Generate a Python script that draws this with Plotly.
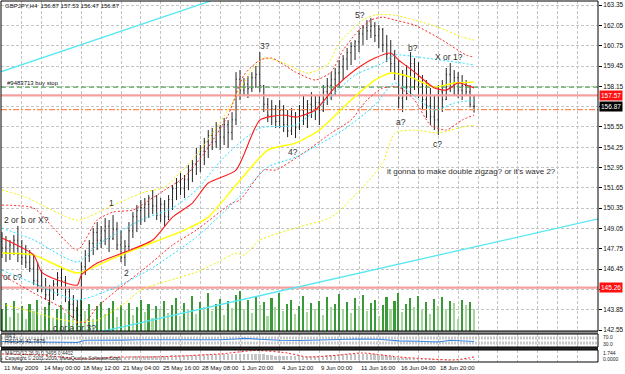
import plotly.graph_objects as go

# ------------------------------------------------------------------ data
symbol_title = "GBPJPY,H4  156.87 157.53 156.47 156.87"

bar_index = list(range(120))

opens = [148.2, 147.8, 147.5, 148.0, 148.3, 147.4, 147.2, 146.9, 146.5, 145.7,
         145.4, 145.2, 144.8, 145.2, 145.5, 145.9, 145.7, 145.0, 144.2, 143.8,
         143.5, 146.6, 147.3, 148.1, 148.8, 148.3, 148.9, 149.2, 148.4, 149.0,
         148.0, 147.2, 147.9, 148.9, 149.8, 150.2, 150.4, 150.6, 151.0, 150.5,
         149.9, 150.6, 149.8, 150.9, 151.6, 152.0, 151.6, 152.2, 152.8, 153.2,
         153.8, 154.0, 154.6, 155.0, 154.6, 155.5, 154.9, 155.7, 155.2, 156.0,
         158.6, 157.9, 158.3, 158.0, 158.7, 158.9, 158.2, 157.0, 156.3, 156.7,
         155.9, 156.6, 155.7, 155.3, 156.2, 155.5, 156.6, 156.3, 157.0, 156.6,
         157.1, 156.6, 157.8, 158.2, 158.6, 159.0, 159.4, 159.9, 160.3, 160.7,
         161.0, 161.5, 161.9, 161.7, 162.0, 161.4, 161.8, 160.8, 160.2, 159.6,
         159.0, 157.4, 158.8, 158.1, 159.6, 158.5, 158.3, 157.3, 156.9, 156.2,
         156.0, 157.8, 157.3, 158.9, 158.3, 158.7, 157.9, 158.2, 157.8, 156.87]

highs = [148.82, 148.57, 148.31, 148.63, 149.21, 148.31, 147.99, 147.67, 147.35, 146.90,
         146.39, 145.88, 145.43, 145.75, 146.26, 146.52, 146.01, 145.24, 144.79, 144.47,
         146.90, 147.67, 148.31, 149.08, 149.46, 149.21, 149.72, 149.59, 149.91, 149.46,
         148.95, 148.31, 149.46, 150.10, 150.55, 150.87, 151.00, 151.19, 151.51, 151.19,
         151.00, 150.87, 151.19, 151.83, 152.28, 152.66, 152.47, 153.11, 153.43, 154.20,
         154.39, 154.84, 155.35, 155.48, 155.86, 155.67, 156.12, 155.99, 156.50, 159.06,
         159.19, 158.68, 158.81, 159.06, 159.45, 160.34, 158.23, 157.40, 157.27, 156.95,
         157.27, 156.95, 156.63, 156.76, 156.50, 156.95, 157.59, 157.27, 157.78, 157.59,
         157.59, 158.23, 158.68, 159.06, 159.32, 159.83, 160.15, 160.60, 160.98, 161.11,
         161.75, 162.07, 162.39, 162.52, 162.26, 162.07, 161.88, 161.43, 161.11, 160.47,
         159.83, 159.19, 159.51, 160.34, 159.96, 159.70, 158.87, 158.55, 158.04, 157.59,
         158.23, 158.55, 159.32, 159.64, 159.19, 159.06, 158.87, 158.55, 158.23, 157.53]

lows = [147.16, 146.90, 147.03, 147.35, 146.90, 146.71, 146.52, 146.26, 145.43, 144.98,
        144.98, 144.47, 144.15, 144.47, 144.73, 145.11, 144.34, 143.83, 143.32, 142.87,
        143.06, 146.07, 146.90, 147.35, 147.67, 147.80, 147.99, 147.54, 148.31, 147.67,
        146.90, 146.65, 147.67, 148.44, 148.82, 149.27, 149.46, 149.72, 149.97, 149.59,
        149.46, 149.21, 149.59, 150.23, 150.87, 151.19, 151.00, 151.51, 152.02, 152.47,
        152.66, 153.11, 153.56, 154.07, 154.20, 154.07, 154.39, 154.20, 154.71, 155.67,
        157.27, 157.59, 157.40, 157.78, 158.04, 157.78, 156.50, 155.86, 155.67, 155.48,
        155.48, 155.22, 154.90, 155.03, 154.84, 155.35, 155.67, 155.48, 156.12, 155.99,
        155.67, 156.50, 156.95, 157.27, 157.59, 158.04, 158.55, 159.19, 159.51, 159.83,
        160.34, 160.79, 161.11, 161.24, 160.98, 160.60, 160.34, 159.70, 159.06, 158.55,
        156.76, 156.50, 157.27, 157.59, 157.91, 157.40, 156.63, 156.12, 155.67, 155.35,
        155.03, 156.50, 157.27, 157.78, 157.59, 157.40, 157.27, 157.59, 156.80, 156.47]

closes = [147.8, 147.5, 148.0, 148.3, 147.4, 147.2, 146.9, 146.5, 145.7, 145.4,
          145.2, 144.8, 145.2, 145.5, 145.9, 145.7, 145.0, 144.2, 143.8, 143.5,
          146.6, 147.3, 148.1, 148.8, 148.3, 148.9, 149.2, 148.4, 149.0, 148.0,
          147.2, 147.9, 148.9, 149.8, 150.2, 150.4, 150.6, 151.0, 150.5, 149.9,
          150.6, 149.8, 150.9, 151.6, 152.0, 151.6, 152.2, 152.8, 153.2, 153.8,
          154.0, 154.6, 155.0, 154.6, 155.5, 154.9, 155.7, 155.2, 156.0, 158.6,
          157.9, 158.3, 158.0, 158.7, 158.9, 158.2, 157.0, 156.3, 156.7, 155.9,
          156.6, 155.7, 155.3, 156.2, 155.5, 156.6, 156.3, 157.0, 156.6, 157.1,
          156.6, 157.8, 158.2, 158.6, 159.0, 159.4, 159.9, 160.3, 160.7, 161.0,
          161.5, 161.9, 161.7, 162.0, 161.4, 161.8, 160.8, 160.2, 159.6, 159.0,
          157.4, 158.8, 158.1, 159.6, 158.5, 158.3, 157.3, 156.9, 156.2, 156.0,
          157.8, 157.3, 158.9, 158.3, 158.7, 157.9, 158.2, 157.8, 157.0, 156.87]

volumes = [22, 28, 14, 30, 18, 25, 12, 27, 20, 31,
           16, 24, 29, 13, 22, 26, 18, 30, 15, 24,
           32, 20, 27, 12, 25, 29, 17, 23, 30, 14,
           26, 21, 28, 16, 24, 31, 19, 27, 13, 25,
           22, 30, 18, 26, 33, 15, 28, 21, 35, 17,
           29, 24, 38, 20, 27, 32, 16, 30, 23, 36,
           40, 22, 31, 18, 34, 26, 29, 15, 33, 24,
           38, 20, 27, 31, 17, 25, 35, 19, 28, 22,
           30, 16, 34, 24, 27, 37, 21, 29, 18, 33,
           25, 36, 20, 28, 31, 15, 26, 34, 22, 30,
           38, 19, 27, 33, 24, 35, 21, 29, 17, 32,
           25, 34, 22, 30, 28, 12, 31, 26, 29, 22]

# moving averages / bands (bar index, price)
red_ma_x = [0, 8, 10, 14, 19, 20, 24, 31, 38, 43, 48, 52, 59, 65, 71, 74, 79, 84, 89, 94, 98, 100, 104, 109, 112, 115, 119]
red_ma_y = [148.44, 147.35, 146.26, 145.75, 145.43, 146.07, 146.84, 147.54, 148.31, 149.78, 150.68, 151.96, 152.79,
            155.99, 156.31, 156.18, 156.63, 158.10, 159.19, 159.96, 160.28, 159.83, 159.06, 158.04, 157.91, 158.36, 158.04]

yellow_ma_x = [0, 8, 19, 27, 35, 46, 52, 59, 67, 74, 80, 88, 94, 98, 103, 109, 114, 119]
yellow_ma_y = [147.48, 147.35, 146.20, 147.03, 147.86, 148.95, 149.78, 151.83, 154.07, 154.52, 155.35, 157.27,
               158.55, 159.00, 158.74, 158.10, 158.36, 158.42]

yellow_up_x = [0, 6, 19, 28, 36, 41, 49, 57, 63, 66, 71, 77, 82, 85, 91, 94, 99, 104, 110, 116, 119]
yellow_up_y = [151.51, 151.06, 149.59, 150.55, 151.38, 151.70, 153.75, 156.63, 159.19, 159.96, 159.64, 159.00,
               159.51, 160.92, 162.39, 162.71, 162.71, 162.39, 161.94, 161.30, 161.11]

yellow_lo_x = [1, 8, 13, 19, 24, 31, 35, 49, 54, 59, 61, 65, 74, 83, 91, 96, 99, 104, 110, 116, 119]
yellow_lo_y = [144.15, 143.70, 143.32, 143.06, 143.19, 144.28, 145.11, 146.26, 146.84, 147.48, 147.35, 148.31,
               149.08, 149.78, 151.70, 153.24, 155.16, 155.35, 155.16, 155.54, 155.67]

red_up_x = [0, 8, 13, 19, 24, 28, 33, 36, 41, 46, 51, 57, 61, 65, 68, 74, 79, 83, 86, 90, 93, 96, 99, 104, 111, 117, 119]
red_up_y = [150.55, 150.36, 149.08, 147.67, 149.59, 150.10, 150.23, 150.68, 151.51, 152.34, 153.88, 156.30, 158.87,
            159.83, 159.96, 159.06, 158.55, 159.06, 160.47, 161.75, 162.39, 162.58, 162.39, 162.07, 161.11, 160.15, 160.02]

red_lo_x = [0, 8, 16, 19, 21, 24, 29, 37, 43, 49, 58, 60, 66, 69, 76, 83, 88, 92, 96, 100, 104, 108, 112, 116, 119]
red_lo_y = [146.07, 144.92, 143.83, 143.06, 143.06, 144.02, 145.11, 146.71, 147.99, 148.95, 150.68, 150.87, 152.79,
            152.79, 153.88, 155.16, 155.99, 157.27, 158.04, 158.10, 157.27, 155.67, 155.35, 155.99, 156.31]

cyan_up_x = [0, 8, 19, 24, 35, 43, 49, 56, 65, 74, 82, 89, 96, 99, 105, 116, 119]
cyan_up_y = [149.08, 148.31, 146.90, 147.99, 149.59, 150.36, 151.51, 153.62, 155.48, 155.67, 157.27, 158.87,
             159.64, 160.15, 160.02, 159.64, 159.51]

cyan_lo_x = [0, 9, 19, 27, 37, 49, 59, 67, 74, 86, 94, 99, 109, 114, 119]
cyan_lo_y = [146.39, 145.43, 144.47, 145.11, 146.39, 148.50, 150.87, 152.98, 153.62, 155.35, 156.95, 158.36,
             156.63, 157.08, 157.27]

# trend lines
trend_top_x = [-0.5, 60]
trend_top_y = [159.06, 164.25]
trend_bot_x = [20, 151]
trend_bot_y = [142.16, 149.71]

# horizontal order / level lines
level_buy_stop = 158.10
level_upper = 157.57
level_current = 156.87
level_stop = 156.66
level_lower = 145.26

# RSI sub-window
rsi_x = [0, 5, 10, 15, 19, 21, 25, 30, 35, 40, 45, 50, 55, 59, 61, 65, 70, 75, 80, 85, 90, 95, 100, 105, 110, 113, 116, 119]
rsi_y = [42, 40, 38, 37, 35, 52, 55, 53, 56, 55, 57, 58, 56, 62, 66, 60, 52, 50, 55, 58, 62, 60, 47, 44, 38, 52, 47, 41.79]
rsi_levels = [70, 30]

# MACD sub-window
macd_hist = [0.4, 0.4, 0.3, 0.3, 0.3, 0.2, 0.2, 0.2, 0.1, 0.1,
             0.1, 0.1, 0.1, 0.1, 0.1, 0.1, 0.1, 0.1, 0.1, 0.1,
             0.2, 0.3, 0.4, 0.5, 0.6, 0.6, 0.7, 0.7, 0.8, 0.8,
             0.8, 0.8, 0.9, 0.9, 1.0, 1.0, 1.0, 1.1, 1.1, 1.1,
             1.1, 1.1, 1.1, 1.2, 1.2, 1.2, 1.3, 1.3, 1.3, 1.3,
             1.4, 1.4, 1.4, 1.4, 1.4, 1.4, 1.4, 1.4, 1.4, 1.5,
             1.6, 1.6, 1.6, 1.6, 1.6, 1.5, 1.4, 1.3, 1.2, 1.1,
             1.0, 1.0, 0.9, 0.9, 0.9, 0.9, 0.9, 0.9, 0.9, 1.0,
             1.0, 1.1, 1.2, 1.2, 1.3, 1.4, 1.4, 1.5, 1.5, 1.6,
             1.6, 1.6, 1.6, 1.5, 1.4, 1.3, 1.2, 1.1, 1.0, 0.8,
             0.6, 0.5, 0.4, 0.3, 0.3, 0.2, 0.2, 0.1, 0.1, 0.1,
             0.1, 0.1, 0.1, 0.1, 0.1, 0.1, 0.1, 0.1, 0.1, 0.1]
macd_sig_x = [0, 10, 20, 30, 37, 45, 55, 64, 72, 77, 85, 91, 100, 108, 114, 119]
macd_sig_y = [1.5, 1.25, 0.25, 0.75, 0.75, 1.0, 1.5, 2.4, 1.75, 0.75, 1.25, 1.75, 0.75, 0.25, 0.0, 0.75]

# axis labels
x_tick_bars = [0, 10, 20, 30, 40, 50, 60, 70, 80, 90, 100, 110]
x_tick_labels = ["11 May 2009", "14 May 00:00", "18 May 12:00", "21 May 04:00", "25 May 16:00",
                 "28 May 08:00", "1 Jun 20:00", "4 Jun 12:00", "9 Jun 00:00", "11 Jun 16:00",
                 "16 Jun 04:00", "18 Jun 20:00"]
grid_bars = [0, 5, 10, 15, 20, 25, 30, 35, 40, 45, 50, 55, 60, 65, 70, 75, 80, 85, 90, 95, 100,
             105, 110, 115, 120, 125, 130, 135, 140, 145, 150]
price_ticks = [142.55, 143.85, 145.15, 146.45, 147.75, 149.05, 150.35, 151.65, 152.95, 154.25,
               155.55, 156.85, 158.15, 159.45, 160.75, 162.05, 163.35]
# 145.15 and 156.85 are hidden behind the price boxes in the reference
price_tick_text = ["142.55", "143.85", "", "146.45", "147.75", "149.05", "150.35", "151.65",
                   "152.95", "154.25", "155.55", "", "158.15", "159.45", "160.75", "162.05", "163.35"]

wave_labels = ["2 or b or X?", "or c?", "c or a or 3?", "1", "2", "3?", "4?", "5?", "a?", "b?", "c?", "X or 1?"]
wave_x = [6.25, 2.75, 18.25, 27.5, 31.5, 66.25, 73.25, 90.25, 100.5, 103.5, 109.75, 112.75]
wave_y = [149.59, 145.94, 142.68, 150.68, 146.2, 160.73, 153.94, 162.71, 155.86, 160.6, 154.45, 160.02]
comment_text = "it gonna to make double zigzag? or it's wave 2?"
comment_x = 96.5
comment_y = 152.73
order_text = "#9483713 buy stop"
order_x = 0.75
order_y = 158.36

# ------------------------------------------------------------------ layout geometry
W, H = 625, 374
ML, MR, MT, MB = 1, 22, 1, 11
PH = H - MT - MB          # plot height in px


def py(px):
    """pixel row (from top of page) -> paper fraction"""
    return (H - MB - px) / PH


FONT = "Liberation Sans, Arial, sans-serif"
GRID = "#c4c4c4"

fig = go.Figure()

# volume (base axis y, drawn underneath everything)
vol_colors = []
for i, v in enumerate(volumes):
    if i == 0 or v >= volumes[i - 1]:
        vol_colors.append("#3a9a3a")
    else:
        vol_colors.append("#a6d89e")
fig.add_trace(go.Bar(x=bar_index, y=volumes, width=0.4, marker=dict(color=vol_colors, line=dict(width=0)),
                     xaxis="x", yaxis="y", hoverinfo="skip", showlegend=False))

# price bars
fig.add_trace(go.Ohlc(x=bar_index, open=opens, high=highs, low=lows, close=closes,
                      increasing=dict(line=dict(color="#222222", width=1)),
                      decreasing=dict(line=dict(color="#222222", width=1)),
                      tickwidth=0.22, xaxis="x", yaxis="y4", hoverinfo="skip", showlegend=False))


def add_line(xs, ys, color, dash="solid", width=1.0, yaxis="y4", shape="spline"):
    fig.add_trace(go.Scatter(x=xs, y=ys, mode="lines", xaxis="x", yaxis=yaxis,
                             line=dict(color=color, width=width, dash=dash, shape=shape, smoothing=0.6),
                             hoverinfo="skip", showlegend=False))


XL = [-0.25, 150.25]
# horizontal order lines
add_line(XL, [level_buy_stop, level_buy_stop], "#5aa55a", dash="5px,3px", width=1.2, shape="linear")
add_line(XL, [level_upper, level_upper], "#f5a0a0", width=2.2, shape="linear")
add_line(XL, [level_stop, level_stop], "#ff8a50", dash="6px,2px,2px,2px", width=1.2, shape="linear")
add_line(XL, [level_lower, level_lower], "#f5a0a0", width=2.2, shape="linear")

# bands
add_line(yellow_up_x, yellow_up_y, "#f2f200", dash="2px,2px")
add_line(yellow_lo_x, yellow_lo_y, "#f2f200", dash="2px,2px")
add_line(red_up_x, red_up_y, "#ff2a2a", dash="2px,2px")
add_line(red_lo_x, red_lo_y, "#ff2a2a", dash="2px,2px")
add_line(cyan_up_x, cyan_up_y, "#22e0ff", dash="2px,2px")
add_line(cyan_lo_x, cyan_lo_y, "#22e0ff", dash="2px,2px")
# moving averages
add_line(yellow_ma_x, yellow_ma_y, "#ffff00", width=1.4)
add_line(red_ma_x, red_ma_y, "#ff1a1a", width=1.1)
# trend lines
add_line(trend_top_x, trend_top_y, "#55e8f2", width=1.3, shape="linear")
add_line(trend_bot_x, trend_bot_y, "#55e8f2", width=1.3, shape="linear")

# RSI window
for lv in rsi_levels:
    add_line(XL, [lv, lv], "#c8c8c8", dash="2px,1px", width=3, yaxis="y2", shape="linear")
add_line(rsi_x, rsi_y, "#3a86e6", width=1.1, yaxis="y2", shape="linear")

# MACD window
fig.add_trace(go.Bar(x=bar_index, y=macd_hist, width=0.45, marker=dict(color="#c4c4c4", line=dict(width=0)),
                     xaxis="x", yaxis="y3", hoverinfo="skip", showlegend=False))
add_line(macd_sig_x, macd_sig_y, "#ff3030", dash="2px,2px", width=1.1, yaxis="y3")

# ------------------------------------------------------------------ annotations
ann = []
small = dict(family=FONT, size=6, color="#111111")
ann.append(dict(x=0.004, y=py(6), xref="paper", yref="paper", text=symbol_title, showarrow=False,
                xanchor="left", yanchor="middle", font=small))
ann.append(dict(x=order_x, y=order_y, xref="x", yref="y4", text=order_text, showarrow=False,
                xanchor="left", yanchor="middle", font=small))
for t, xv, yv in zip(wave_labels, wave_x, wave_y):
    ann.append(dict(x=xv, y=yv, xref="x", yref="y4", text=t, showarrow=False, xanchor="center",
                    yanchor="middle", font=dict(family=FONT, size=8.5, color="#303030")))
ann.append(dict(x=comment_x, y=comment_y, xref="x", yref="y4", text=comment_text, showarrow=False,
                xanchor="left", yanchor="middle", font=dict(family=FONT, size=8, color="#303030")))

# price boxes on the right axis
for val, bg in [(level_upper, "#ff1010"), (level_current, "#000000"), (level_lower, "#ff1010")]:
    ann.append(dict(x=1.0, y=val, xref="paper", yref="y4", text="%.2f" % val, showarrow=False,
                    xanchor="left", yanchor="middle", xshift=1, bgcolor=bg, borderpad=1,
                    font=dict(family=FONT, size=6.5, color="white")))

# x labels
for b, t in zip(x_tick_bars, x_tick_labels):
    ann.append(dict(x=b, y=py(368), xref="x", yref="paper", text=t, showarrow=False,
                    xanchor="left", yanchor="middle", xshift=0, font=small))

# sub window texts
ann.append(dict(x=0.003, y=py(341), xref="paper", yref="paper", text="RSI(14) 41.7875", showarrow=False,
                xanchor="left", yanchor="middle", font=dict(family=FONT, size=5.5, color="#222222")))
ann.append(dict(x=0.003, y=py(336.5), xref="paper", yref="paper", text="MA 3", showarrow=False,
                xanchor="left", yanchor="middle", font=dict(family=FONT, size=4.5, color="#222222")))
ann.append(dict(x=0.003, y=py(352.5), xref="paper", yref="paper", text="MACD(12,26,9) 0.3495 0.4402",
                showarrow=False, xanchor="left", yanchor="middle",
                font=dict(family=FONT, size=5, color="#333333")))
ann.append(dict(x=0.003, y=py(357.5), xref="paper", yref="paper",
                text="Copyright © 2001-2009, MetaQuotes Software Corp.", showarrow=False,
                xanchor="left", yanchor="middle", font=dict(family=FONT, size=5, color="#333333")))
for txt, pxy in [("70.0", 337), ("30.0", 343.5), ("1.744", 353), ("0.0000", 359)]:
    ann.append(dict(x=1.0, y=py(pxy), xref="paper", yref="paper", text=txt, showarrow=False,
                    xanchor="left", yanchor="middle", xshift=3,
                    font=dict(family=FONT, size=5, color="#222222")))

# ------------------------------------------------------------------ shapes (panel frames)
main_bot, s1_top, s1_bot, s2_top, s2_bot = 331, 334, 347, 350, 362
shapes = [
    dict(type="rect", xref="paper", yref="paper", x0=0, x1=1, y0=py(s1_top), y1=py(main_bot),
         fillcolor="#8e8e8e", line=dict(width=0), layer="above"),
    dict(type="rect", xref="paper", yref="paper", x0=0, x1=1, y0=py(s2_top), y1=py(s1_bot),
         fillcolor="#262626", line=dict(width=0), layer="above"),
    dict(type="rect", xref="paper", yref="paper", x0=0, x1=1, y0=py(main_bot), y1=1,
         line=dict(color="#000000", width=1), fillcolor="rgba(0,0,0,0)", layer="above"),
    dict(type="rect", xref="paper", yref="paper", x0=0, x1=1, y0=py(s1_bot), y1=py(s1_top),
         line=dict(color="#000000", width=1), fillcolor="rgba(0,0,0,0)", layer="above"),
    dict(type="rect", xref="paper", yref="paper", x0=0, x1=1, y0=py(s2_bot), y1=py(s2_top),
         line=dict(color="#000000", width=1), fillcolor="rgba(0,0,0,0)", layer="above"),
]

fig.update_layout(
    width=W, height=H,
    margin=dict(l=ML, r=MR, t=MT, b=MB, pad=0),
    paper_bgcolor="white", plot_bgcolor="white",
    showlegend=False, hovermode=False,
    bargap=0,
    xaxis=dict(range=XL, anchor="y3", tickmode="array", tickvals=grid_bars, showticklabels=False,
               ticks="", showgrid=True, gridcolor=GRID, griddash="3px,2px", gridwidth=1,
               zeroline=False, showline=False, rangeslider=dict(visible=False), fixedrange=True),
    yaxis=dict(domain=[py(main_bot), 1], range=[0, 330], visible=False, fixedrange=True),
    yaxis4=dict(overlaying="y", side="right", anchor="x", range=[142.49, 163.61], tickmode="array",
                tickvals=price_ticks, ticktext=price_tick_text, showgrid=True, gridcolor=GRID,
                griddash="3px,2px", gridwidth=1, zeroline=False, ticks="outside", ticklen=3,
                tickcolor="#000", tickfont=dict(family=FONT, size=6.5, color="#111111"),
                showline=False, fixedrange=True),
    yaxis2=dict(domain=[py(s1_bot), py(s1_top)], range=[0, 100], side="right", anchor="x",
                showticklabels=False, showgrid=False, zeroline=False, ticks="", fixedrange=True),
    yaxis3=dict(domain=[py(s2_bot), py(s2_top)], range=[-0.5, 2.5], side="right", anchor="x",
                showticklabels=False, showgrid=False, zeroline=False, ticks="", fixedrange=True),
    annotations=ann,
    shapes=shapes,
)

fig.write_html("out.html")
